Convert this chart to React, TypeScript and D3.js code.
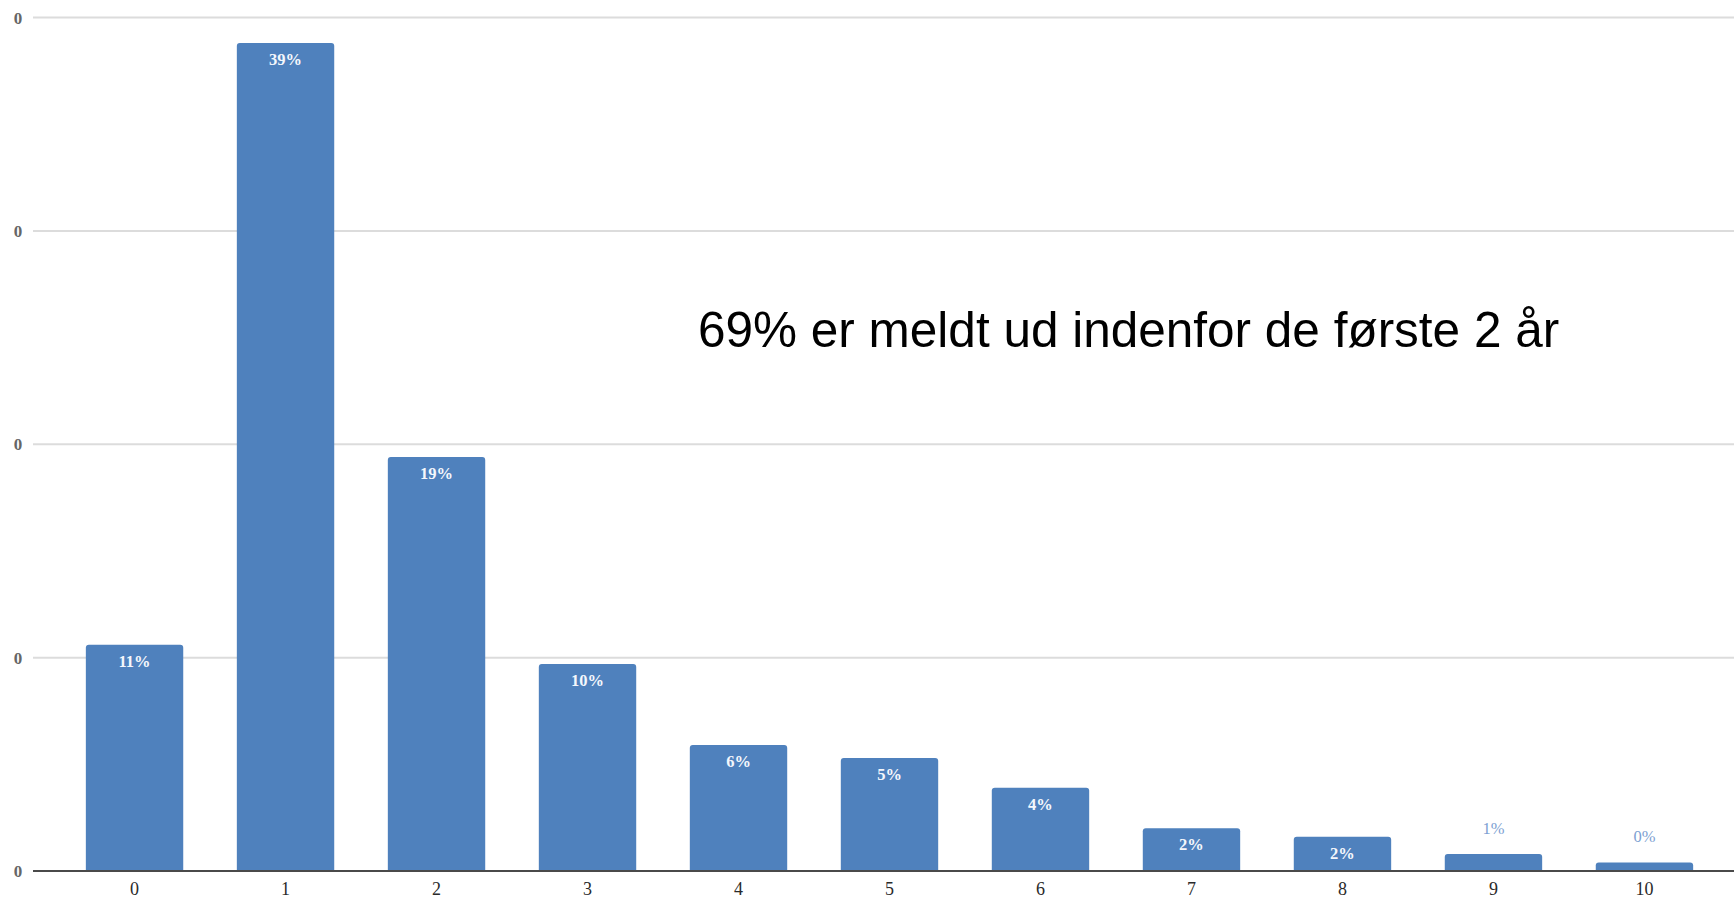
import React, { useEffect, useRef } from "react";
import * as d3 from "d3";

const categories = ["0", "1", "2", "3", "4", "5", "6", "7", "8", "9", "10"];
const shares = [0.106, 0.388, 0.194, 0.097, 0.059, 0.053, 0.039, 0.02, 0.016, 0.008, 0.004];
const yTicks = [0, 0.1, 0.2, 0.3, 0.4];
const annotation = "69% er meldt ud indenfor de første 2 år";

const W = 1734;
const H = 898;

export default function App() {
  const ref = useRef<SVGSVGElement | null>(null);

  useEffect(() => {
    const svg = d3.select(ref.current);
    svg.selectAll("*").remove();

    const x = d3
      .scaleBand<string>()
      .domain(categories)
      .range([33, 1746])
      .paddingInner(0.355)
      .paddingOuter(0.35);
    const y = d3.scaleLinear().domain([0, 0.4]).range([871, 17.5]);
    const serif = "'Liberation Serif', 'DejaVu Serif', serif";

    // gridlines
    svg
      .append("g")
      .selectAll("line")
      .data(yTicks.slice(1))
      .join("line")
      .attr("x1", 33)
      .attr("x2", W)
      .attr("y1", (d) => y(d))
      .attr("y2", (d) => y(d))
      .attr("stroke", "#dcdcdc")
      .attr("stroke-width", 2);

    // y labels
    svg
      .append("g")
      .selectAll("text")
      .data(yTicks)
      .join("text")
      .attr("x", 18)
      .attr("y", (d) => y(d) + 6)
      .attr("text-anchor", "middle")
      .attr("font-family", serif)
      .attr("font-size", 17)
      .attr("font-weight", "bold")
      .attr("fill", "#666")
      .text((d) => d3.format(".0f")(d));

    // bars
    const rx = 3;
    svg
      .append("g")
      .selectAll("path")
      .data(shares)
      .join("path")
      .attr("fill", "#4F81BD")
      .attr("d", (d, i) => {
        const x0 = x(categories[i])!;
        const w = x.bandwidth();
        const top = y(d);
        const bot = y(0);
        const r = Math.min(rx, (bot - top) / 2);
        return `M${x0},${bot} V${top + r} Q${x0},${top} ${x0 + r},${top} H${x0 + w - r} Q${x0 + w},${top} ${x0 + w},${top + r} V${bot} Z`;
      });

    // baseline
    svg
      .append("line")
      .attr("x1", 33)
      .attr("x2", W)
      .attr("y1", y(0))
      .attr("y2", y(0))
      .attr("stroke", "#4a4a4a")
      .attr("stroke-width", 2);

    // value labels
    const inside = (d: number) => y(0) - y(d) > 30;
    svg
      .append("g")
      .selectAll("text")
      .data(shares)
      .join("text")
      .attr("x", (d, i) => x(categories[i])! + x.bandwidth() / 2)
      .attr("y", (d) => (inside(d) ? y(d) + 22 : y(d) - 20))
      .attr("text-anchor", "middle")
      .attr("font-family", serif)
      .attr("font-size", 16.5)
      .attr("font-weight", (d) => (inside(d) ? "bold" : "normal"))
      .attr("fill", (d) => (inside(d) ? "#f4f7fc" : "#7d9fd2"))
      .text((d) => `${Math.round(d * 100)}%`);

    // x labels
    svg
      .append("g")
      .selectAll("text")
      .data(categories)
      .join("text")
      .attr("x", (d) => x(d)! + x.bandwidth() / 2)
      .attr("y", 895)
      .attr("text-anchor", "middle")
      .attr("font-family", serif)
      .attr("font-size", 18)
      .attr("fill", "#2a2a2a")
      .text((d) => d);

    // annotation
    svg
      .append("text")
      .attr("x", 698)
      .attr("y", 347)
      .attr("font-family", "'Liberation Sans', Arial, sans-serif")
      .attr("font-size", 49.5)
      .attr("fill", "#000")
      .text(annotation);
  }, []);

  return (
    <svg
      ref={ref}
      width={W}
      height={H}
      style={{ position: "absolute", left: 0, top: 0, background: "#fff" }}
    />
  );
}
